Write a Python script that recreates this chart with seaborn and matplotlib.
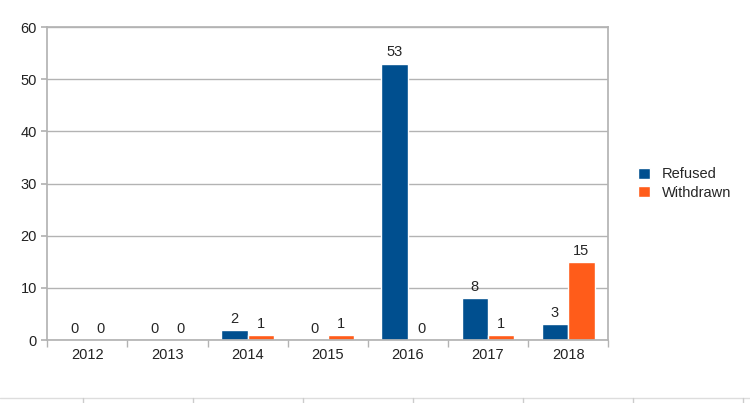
import matplotlib
matplotlib.use("Agg")
import matplotlib.pyplot as plt
import pandas as pd
import seaborn as sns
from matplotlib.lines import Line2D

years = ["2012", "2013", "2014", "2015", "2016", "2017", "2018"]
refused = [0, 0, 2, 0, 53, 8, 3]
withdrawn = [0, 0, 1, 1, 0, 1, 15]

df = pd.DataFrame({
    "year": years * 2,
    "count": refused + withdrawn,
    "status": ["Refused"] * len(years) + ["Withdrawn"] * len(years),
})

sns.set_theme(style="white")
plt.rcParams["font.family"] = ["Liberation Sans", "DejaVu Sans"]

fig = plt.figure(figsize=(7.5, 4.03), dpi=100)
ax = fig.add_axes([0.063, 0.156, 0.748, 0.777])
palette = {"Refused": "#004f8f", "Withdrawn": "#ff5c1a"}
sns.barplot(data=df, x="year", y="count", hue="status", palette=palette,
            width=0.66, saturation=1, ax=ax)

for c in ax.containers:
    ax.bar_label(c, fontsize=10.5, padding=3)

ax.set_ylim(0, 60)
ax.set_yticks(range(0, 61, 10))
ax.set_xlim(-0.5, len(years) - 0.5)
ax.set_xlabel("")
ax.set_ylabel("")
ax.tick_params(axis="x", labelsize=10.5, colors="#222222", length=0, pad=6)
ax.tick_params(axis="y", labelsize=10.5, colors="#222222", length=4,
               color="#b3b3b3", direction="out", left=True)
ax.set_xticks([i - 0.5 for i in range(len(years) + 1)], minor=True)
ax.tick_params(axis="x", which="minor", length=5, color="#b3b3b3",
               direction="out", bottom=True)
ax.yaxis.grid(True, color="#b3b3b3", linewidth=1)
ax.set_axisbelow(True)
for s in ax.spines.values():
    s.set_color("#b3b3b3")

ax.legend(title=None, frameon=False, loc="center left",
          bbox_to_anchor=(1.03, 0.5), fontsize=10.5, handlelength=0.8,
          handleheight=0.8, labelspacing=0.3)

# faint baseline strip at the very bottom
y = 5 / 403
fig.add_artist(Line2D([0, 1], [y, y], color="#dddddd", linewidth=1))
for px in [83, 193, 303, 413, 523, 633, 743]:
    fig.add_artist(Line2D([px / 750, px / 750], [0, y], color="#cccccc", linewidth=1))

fig.savefig("out.png", dpi=100)
